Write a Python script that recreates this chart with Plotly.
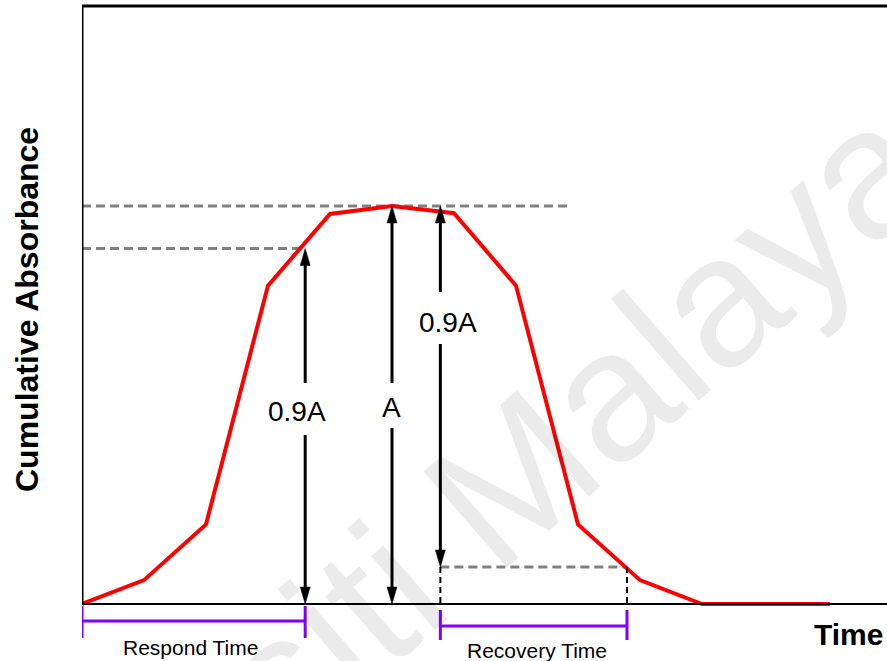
import plotly.graph_objects as go

# ---- data ----
time_pts = [0, 1, 2, 3, 4, 5, 6, 7, 8, 9, 10, 12.06]
absorbance = [0, 6, 20, 80, 98, 100, 98.2, 80, 20, 6, 0, 0]

peak_A = 100          # A
respond_level = 89.3  # 0.9A reached during rise
respond_x = 3.6
peak_x = 5.0
recovery_x = 5.78
recovery_level = 9.3  # level after 0.9A drop
recovery_end_x = 8.79
top_dash_end = 7.84

# ---- layout geometry ----
W, H = 887, 661
ML = 82
PX_X = 62.0     # pixels per x unit
PX_Y = 3.98     # pixels per y unit
PLOT_W = W - ML
x_range = [0, PLOT_W / PX_X]
y_range = [-(H - 604) / PX_Y, 604 / PX_Y]
y_top = (604 - 6) / PX_Y

FONT = "Liberation Sans, Arial, sans-serif"

fig = go.Figure()
fig.add_trace(go.Scatter(x=time_pts, y=absorbance, mode="lines",
                         line=dict(color="#ff0000", width=4),
                         hoverinfo="skip", showlegend=False))

shapes = []

def line(x0, y0, x1, y1, color="black", width=3, dash=None, layer="above"):
    d = dict(type="line", xref="x", yref="y", x0=x0, y0=y0, x1=x1, y1=y1,
             line=dict(color=color, width=width), layer=layer)
    if dash:
        d["line"]["dash"] = dash
    shapes.append(d)

def head(xt, yt, up=True):
    L = 17 / PX_Y
    hw = 5 / PX_X
    yb = yt - L if up else yt + L
    shapes.append(dict(type="path", xref="x", yref="y",
                       path=f"M {xt},{yt} L {xt-hw},{yb} L {xt+hw},{yb} Z",
                       fillcolor="black", line=dict(color="black", width=0.5),
                       layer="above"))

def py(p):
    return (604 - p) / PX_Y

def pxx(p):
    return (p - ML) / PX_X

# frame
line(0, y_top, x_range[1], y_top, width=3)
line(0, 0, 0, y_top, width=3)
line(0, 0, x_range[1], 0, width=2)

# grey dashed guide lines
line(0, peak_A, top_dash_end, peak_A, color="#808080", width=3, dash="9px,5px", layer="below")
line(0, respond_level, respond_x, respond_level, color="#808080", width=3, dash="9px,5px", layer="below")
line(recovery_x, recovery_level, recovery_end_x, recovery_level, color="#808080", width=3, dash="9px,5px", layer="below")

# black dashed drops
line(recovery_x, recovery_level, recovery_x, 0, width=2, dash="6px,4px")
line(recovery_end_x, recovery_level, recovery_end_x, 0, width=2, dash="6px,4px")

# vertical arrows with gaps for labels
arrows = [
    (respond_x, respond_level, 0, py(383), py(435)),
    (peak_x, peak_A, 0, py(383), py(428)),
    (recovery_x, peak_A, recovery_level, py(292), py(344)),
]
for xa, ytop, ybot, gap_top, gap_bot in arrows:
    line(xa, ytop - 10 / PX_Y, xa, gap_top, width=3)
    line(xa, gap_bot, xa, ybot + 10 / PX_Y, width=3)
    head(xa, ytop, up=True)
    head(xa, ybot, up=False)

# purple brackets
purple = "#8000ff"
line(0, py(621), respond_x, py(621), color=purple, width=3)
line(0, py(606), 0, py(638), color=purple, width=3)
line(respond_x, py(606), respond_x, py(638), color=purple, width=3)
line(recovery_x, py(626), recovery_end_x, py(626), color=purple, width=3)
line(recovery_x, py(610), recovery_x, py(640), color=purple, width=3)
line(recovery_end_x, py(610), recovery_end_x, py(640), color=purple, width=3)

annotations = [
    dict(x=pxx(372), y=py(600), text="Universiti Malaya", showarrow=False,
         textangle=-41, font=dict(family=FONT, size=185, color="rgba(0,0,0,0.08)"),
         xanchor="center", yanchor="middle"),
    dict(x=pxx(297), y=py(411), text="0.9A", showarrow=False,
         font=dict(family=FONT, size=28, color="black")),
    dict(x=pxx(391), y=py(407), text="A", showarrow=False,
         font=dict(family=FONT, size=28, color="black")),
    dict(x=pxx(448), y=py(322), text="0.9A", showarrow=False,
         font=dict(family=FONT, size=28, color="black")),
    dict(x=pxx(190), y=py(647), text="Respond Time", showarrow=False,
         font=dict(family=FONT, size=21, color="black")),
    dict(x=pxx(537), y=py(650), text="Recovery Time", showarrow=False,
         font=dict(family=FONT, size=21, color="black")),
    dict(x=pxx(848), y=py(634), text="<b>Time</b>", showarrow=False,
         font=dict(family=FONT, size=30, color="black")),
    dict(xref="paper", yref="paper", x=(27 - ML) / PLOT_W, y=(H - 310) / H,
         text="<b>Cumulative Absorbance</b>", showarrow=False,
         textangle=-90, xanchor="center", yanchor="middle",
         font=dict(family=FONT, size=32, color="black")),
]

fig.update_layout(
    width=W, height=H,
    margin=dict(l=ML, r=0, t=0, b=0),
    paper_bgcolor="white", plot_bgcolor="white",
    xaxis=dict(range=x_range, visible=False, fixedrange=True),
    yaxis=dict(range=y_range, visible=False, fixedrange=True),
    shapes=shapes, annotations=annotations, showlegend=False,
)

fig.write_html("out.html")
